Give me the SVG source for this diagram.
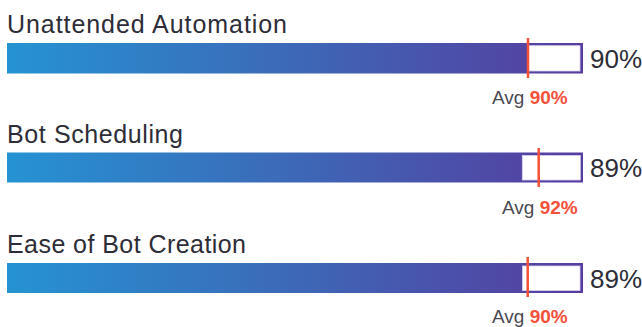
<svg xmlns="http://www.w3.org/2000/svg" width="642" height="327" viewBox="0 0 642 327">
<defs>
<linearGradient id="barGrad" gradientUnits="userSpaceOnUse" x1="7" y1="0" x2="583" y2="0">
<stop offset="0" stop-color="#2593d3"/>
<stop offset="0.5" stop-color="#3d68b7"/>
<stop offset="1" stop-color="#573c9f"/>
</linearGradient>
</defs>
<style>
.label{font-family:"Liberation Sans",Arial,sans-serif;font-size:25px;fill:#2d2d38}
.pct{font-family:"Liberation Sans",Arial,sans-serif;font-size:26px;fill:#2d2d38}
.avg{font-family:"Liberation Sans",Arial,sans-serif;font-size:19px;fill:#4a4a52}
.avgv{fill:#f4503a;font-weight:bold}
.bar{fill:url(#barGrad)}
.rest{fill:#ffffff;stroke:#d9d2ee;stroke-width:0.8}
.mark{stroke:#f4503a;stroke-width:2.5}
</style>
<g id="row1">
<text class="label" x="7" y="33" textLength="280" lengthAdjust="spacing">Unattended Automation</text>
<rect class="bar" x="7" y="43" width="576" height="30.5"/>
<rect class="rest" x="528.5" y="45.7" width="51.5" height="25.3"/>
<line class="mark" x1="528" y1="38" x2="528" y2="78"/>
<text class="pct" x="590" y="67.5">90%</text>
<text class="avg" x="492" y="104">Avg <tspan class="avgv">90%</tspan></text>
</g>
<g id="row2">
<text class="label" x="7" y="142.5" textLength="176" lengthAdjust="spacing">Bot Scheduling</text>
<rect class="bar" x="7" y="152.5" width="576" height="30"/>
<rect class="rest" x="522.3" y="155.5" width="58" height="24.5"/>
<line class="mark" x1="538.7" y1="148" x2="538.7" y2="187"/>
<text class="pct" x="590" y="177">89%</text>
<text class="avg" x="502" y="214">Avg <tspan class="avgv">92%</tspan></text>
</g>
<g id="row3">
<text class="label" x="7" y="252.5" textLength="239" lengthAdjust="spacing">Ease of Bot Creation</text>
<rect class="bar" x="7" y="263" width="576" height="30"/>
<rect class="rest" x="522.5" y="266" width="57.5" height="24.5"/>
<line class="mark" x1="527.7" y1="257" x2="527.7" y2="297"/>
<text class="pct" x="590" y="287.5">89%</text>
<text class="avg" x="492" y="322.5">Avg <tspan class="avgv">90%</tspan></text>
</g>
<g id="connectors"/>
</svg>
